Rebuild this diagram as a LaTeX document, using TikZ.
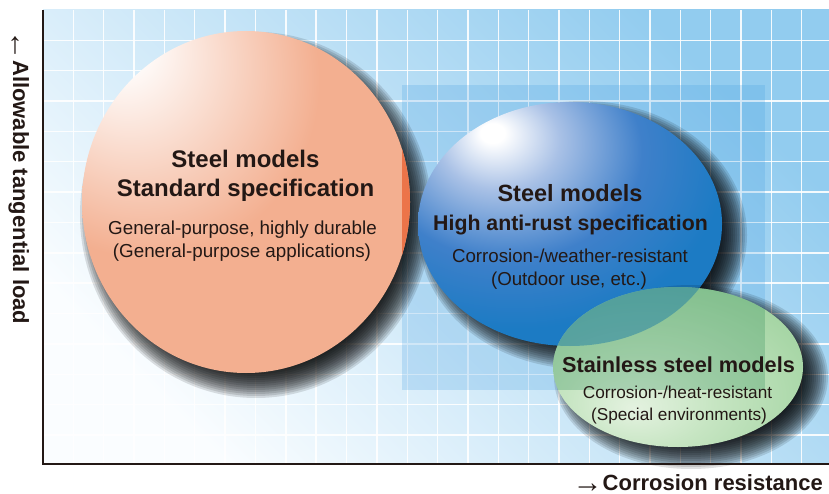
\documentclass[tikz,border=0pt]{standalone}
\usepackage{fontspec}
\setmainfont{Liberation Sans}
\usetikzlibrary{shapes.geometric,calc}

\definecolor{txt}{HTML}{231815}
\definecolor{bgA}{HTML}{FAFDFF}
\definecolor{bgB}{HTML}{92CCEF}
\definecolor{rectcol}{HTML}{3E9BE0}
\definecolor{orA}{HTML}{F3AF90}
\definecolor{orB}{HTML}{EFA282}
\definecolor{stripcol}{HTML}{EC7449}
\definecolor{blL}{HTML}{A9C1E6}
\definecolor{blM}{HTML}{3F80CA}
\definecolor{blA}{HTML}{1C7BC4}
\definecolor{grL}{HTML}{E4F2E0}
\definecolor{grL2}{HTML}{C6E5C2}
\definecolor{grA}{HTML}{A5D5A4}
\definecolor{grD}{HTML}{66AD76}
\definecolor{grOver}{HTML}{2E8B57}

\pgfdeclareradialshading{orangeball}{\pgfpoint{-20bp}{24bp}}{color(0bp)=(white); color(3bp)=(white); color(26bp)=(orA); color(60bp)=(orA); color(90bp)=(orB); color(100bp)=(orB)}
\pgfdeclareradialshading{blueball}{\pgfpoint{-13bp}{19bp}}{color(0bp)=(white); color(2bp)=(white); color(10bp)=(blL); color(22bp)=(blM); color(34bp)=(blA); color(100bp)=(blA)}
\pgfdeclareradialshading{greenball}{\pgfpoint{-9bp}{-13bp}}{color(0bp)=(grL); color(15bp)=(grL2); color(35bp)=(grA); color(52bp)=(grA); color(70bp)=(grD); color(100bp)=(grD)}

\newcommand{\mkshadow}[3]{%
  \foreach \k in {0,...,15}
    \fill[black, opacity=0.12] (#1) ellipse [x radius={#2+12-2*\k}, y radius={#3+12-2*\k}];%
}

\tikzset{
  ball/.style={ellipse, draw=none, shade, inner sep=0pt},
  gridline/.style={white, line width=1.4pt, opacity=0.9},
  axisline/.style={txt, line width=1.2pt},
  ttl/.style={font=\bfseries\fontsize{#1}{#1}\selectfont, text=txt, anchor=base, inner sep=0pt},
  bdy/.style={font=\fontsize{#1}{#1}\selectfont, text=txt, anchor=base, inner sep=0pt},
  axlabel/.style={font=\bfseries\fontsize{22}{22}\selectfont, text=txt, inner sep=0pt},
  rectfill/.style={fill=rectcol, opacity=0.22},
}
\newcommand{\axarrow}[1]{{\mdseries\fontsize{30}{30}\selectfont\raisebox{-2.6pt}{#1}}}

\begin{document}
\begin{tikzpicture}[x=1pt,y=-1pt]
\useasboundingbox (0,0) rectangle (829,494);
\coordinate (ytop) at (43,10);
\coordinate (o) at (43,464);
\coordinate (xend) at (829,464);
\coordinate (r1) at (402,85);
\coordinate (r2) at (765,390);
\coordinate (stdc) at (246,202);
\coordinate (rustc) at (570,224);
\coordinate (susc) at (678,367);
\coordinate (stds) at (256,215);
\coordinate (rusts) at (583,235);
\coordinate (suss) at (691,377);

% background
\shade[bottom color=bgA, top color=bgB, shading angle=-45] (ytop) rectangle (xend);
\foreach \i in {1,...,25} \draw[gridline] ({43+30.35*\i},10) -- ({43+30.35*\i},464);
\foreach \j in {1,...,14} \draw[gridline] (43,{10+30.35*\j}) -- (829,{10+30.35*\j});
\fill[rectfill] (r1) rectangle (r2);

% orange
\mkshadow{stds}{164}{171}
\node[ball, shading=orangeball, minimum width=328pt, minimum height=342pt] (std) at (stdc) {};
\begin{scope}
  \clip (std.center) ellipse [x radius=164pt, y radius=171pt];
  \fill[stripcol] (r1) rectangle (r2);
\end{scope}

% blue
\mkshadow{rusts}{152}{122}
\node[ball, shading=blueball, minimum width=304pt, minimum height=244pt] (rust) at (rustc) {};

% green
\mkshadow{suss}{125}{80}
\node[ball, shading=greenball, minimum width=250pt, minimum height=160pt] (sus) at (susc) {};
\begin{scope}
  \clip (sus.center) ellipse [x radius=125pt, y radius=80pt];
  \fill[blA, opacity=0.5] (rust.center) ellipse [x radius=152pt, y radius=122pt];
  \fill[grOver, opacity=0.28] (r1) rectangle (r2);
\end{scope}

% axes
\draw[axisline] (ytop) -- (o) -- (xend);
\node[axlabel, anchor=base east] (xlab) at (823,490) {\axarrow{→}Corrosion resistance};
\node[axlabel, anchor=base west, rotate=-90] (ylab) at (13,30) {\axarrow{←}Allowable tangential load};

% texts
\node[ttl=24] (std1) at (245.5,168) {Steel models};
\node[ttl=24] (std2) at (245.5,197) {Standard specification};
\node[bdy=18.8] (std3) at (242.5,235) {General-purpose, highly durable};
\node[bdy=18.8] (std4) at (242,258) {(General-purpose applications)};

\node[ttl=23.5] (rust1) at (570,202) {Steel models};
\node[ttl=21.3] (rust2) at (570.5,230) {High anti-rust specification};
\node[bdy=18.7] (rust3) at (570,262) {Corrosion-/weather-resistant};
\node[bdy=18.7] (rust4) at (569,285) {(Outdoor use, etc.)};

\node[ttl=21.7] (sus1) at (678.5,372) {Stainless steel models};
\node[bdy=17.2] (sus2) at (677.5,398) {Corrosion-/heat-resistant};
\node[bdy=17.2] (sus3) at (679,420) {(Special environments)};
\end{tikzpicture}
\end{document}
